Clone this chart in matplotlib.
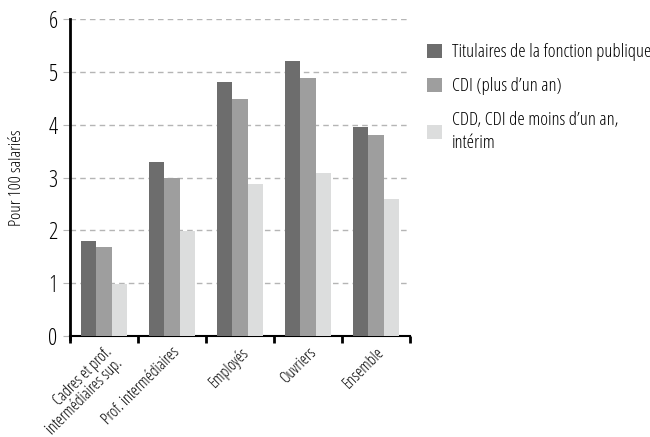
import matplotlib
matplotlib.use("Agg")
import matplotlib.pyplot as plt
import numpy as np
from matplotlib.ticker import FixedLocator

plt.rcParams['font.family'] = ['Open Sans', 'DejaVu Sans']
plt.rcParams['font.stretch'] = 'condensed'

categories = ["Cadres et prof.\nintermédiaires sup.", "Prof. intermédiaires", "Employés", "Ouvriers", "Ensemble"]
series_names = ["Titulaires de la fonction publique", "CDI (plus d’un an)", "CDD, CDI de moins d’un an,\nintérim"]
titulaires = [1.8, 3.3, 4.8, 5.2, 3.95]
cdi = [1.68, 3.0, 4.48, 4.88, 3.8]
cdd = [0.98, 1.98, 2.87, 3.08, 2.59]
colors = ["#6d6d6d", "#9e9e9e", "#dcdddd"]
y_ticks = [0, 1, 2, 3, 4, 5, 6]

fig = plt.figure(figsize=(6.5, 4.37), dpi=100)
ax = fig.add_axes([0.1077, 0.2311, 0.5231, 0.7254])

x = np.arange(len(categories))
w = 0.225
for i, (vals, name) in enumerate(zip([titulaires, cdi, cdd], series_names)):
    ax.bar(x + (i - 1) * w, vals, width=w, color=colors[i], label=name, zorder=3)

ax.set_xlim(-0.5, len(categories) - 0.5)
ax.set_ylim(0, 6)
ax.set_yticks(y_ticks)
ax.yaxis.grid(True, linestyle=(0, (4, 3)), color="#b5b5b5", linewidth=1.0, zorder=0)
ax.set_axisbelow(True)
ax.tick_params(axis='y', length=5, color="#b5b5b5", labelsize=16.5, pad=4)
ax.set_xticks(x)
ax.set_xticklabels(categories, rotation=45, ha='right', rotation_mode='anchor', fontsize=11.5, linespacing=0.9)
ax.tick_params(axis='x', which='major', length=0, pad=6)
ax.xaxis.set_minor_locator(FixedLocator(np.arange(-0.5, len(categories), 1.0)))
ax.tick_params(axis='x', which='minor', length=5, width=2, color='black', direction='out')

for s in ['top', 'right']:
    ax.spines[s].set_visible(False)
ax.spines['left'].set_linewidth(2)
ax.spines['bottom'].set_linewidth(1.5)
ax.spines['left'].set_bounds(-0.05, 6)

ax.set_ylabel("Pour 100 salariés", fontsize=12.5, labelpad=17)

leg = fig.legend(loc='upper left', bbox_to_anchor=(0.645, 0.918), frameon=False,
                 fontsize=13.5, handlelength=0.8, handleheight=0.8, handletextpad=0.55,
                 labelspacing=0.85, borderaxespad=0)
for t in leg.get_texts():
    t.set_linespacing(1.35)

fig.savefig("out.png", dpi=100)
